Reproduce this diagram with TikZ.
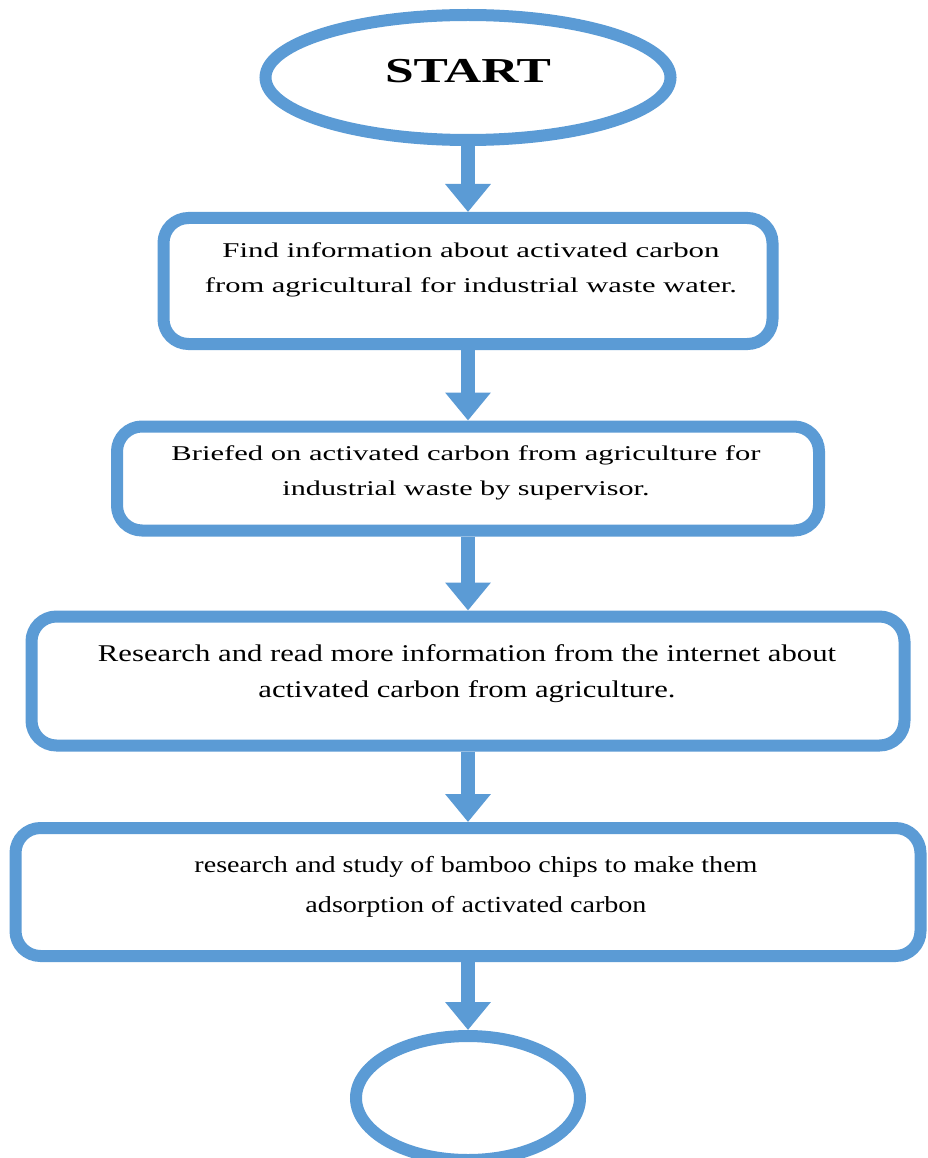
\documentclass[tikz,border=0pt]{standalone}
\usepackage{fontspec}
\setmainfont{Liberation Serif}
\usetikzlibrary{arrows.meta,shapes.geometric}
\definecolor{fblue}{HTML}{5B9BD5}
\newcommand{\sline}[2]{\resizebox{#1pt}{\height}{#2}}
\begin{document}
\begin{tikzpicture}[x=1pt,y=1pt,
  boxst/.style={draw=fblue, line width=12pt, rounded corners=25pt, fill=white, inner sep=0pt},
  ovalst/.style={ellipse, draw=fblue, line width=12pt, fill=white, inner sep=0pt},
  arr/.style={draw=fblue, line width=14pt, -{Triangle[width=44pt,length=28pt]}},
  txt/.style={align=center, inner sep=0pt, text=black}]
\useasboundingbox (0,0) rectangle (927,-1158);
\fill[white] (0,0) rectangle (927,-1158);

\node[ovalst, minimum width=405pt, minimum height=125pt] (start) at (468,-77.5) {};
\node[txt, font=\bfseries\fontsize{35}{40}\selectfont] (starttxt) at (468,-71.5) {\sline{166}{START}};

\node[boxst, minimum width=609pt, minimum height=126pt] (b1) at (468,-281) {};
\node[txt, font=\fontsize{21}{35}\selectfont] (b1t) at (471,-269.7)
  {\sline{497}{Find information about activated carbon}\\
   \sline{532}{from agricultural for industrial waste water.}};

\node[boxst, minimum width=702pt, minimum height=104pt] (b2) at (468,-478.5) {};
\node[txt, font=\fontsize{21}{35}\selectfont] (b2t) at (466,-472.7)
  {\sline{589}{Briefed on activated carbon from agriculture for}\\
   \sline{367}{industrial waste by supervisor.}};

\node[boxst, minimum width=873pt, minimum height=129pt] (b3) at (468,-681) {};
\node[txt, font=\fontsize{24}{36}\selectfont] (b3t) at (467,-673.4)
  {\sline{738}{Research and read more information from the internet about}\\
   \sline{417}{activated carbon from agriculture.}};

\node[boxst, minimum width=905pt, minimum height=128pt] (b4) at (468,-892) {};
\node[txt, font=\fontsize{23}{40}\selectfont] (b4t) at (476,-886.4)
  {\sline{563}{research and study of bamboo chips to make them}\\
   \sline{341}{adsorption of activated carbon}};

\node[ovalst, minimum width=224pt, minimum height=124pt] (end) at (468,-1098) {};

\draw[arr] (start.south) -- (b1.north);
\draw[arr] (b1.south) -- (b2.north);
\draw[arr] (b2.south) -- (b3.north);
\draw[arr] (b3.south) -- (b4.north);
\draw[arr] (b4.south) -- (end.north);
\end{tikzpicture}
\end{document}
